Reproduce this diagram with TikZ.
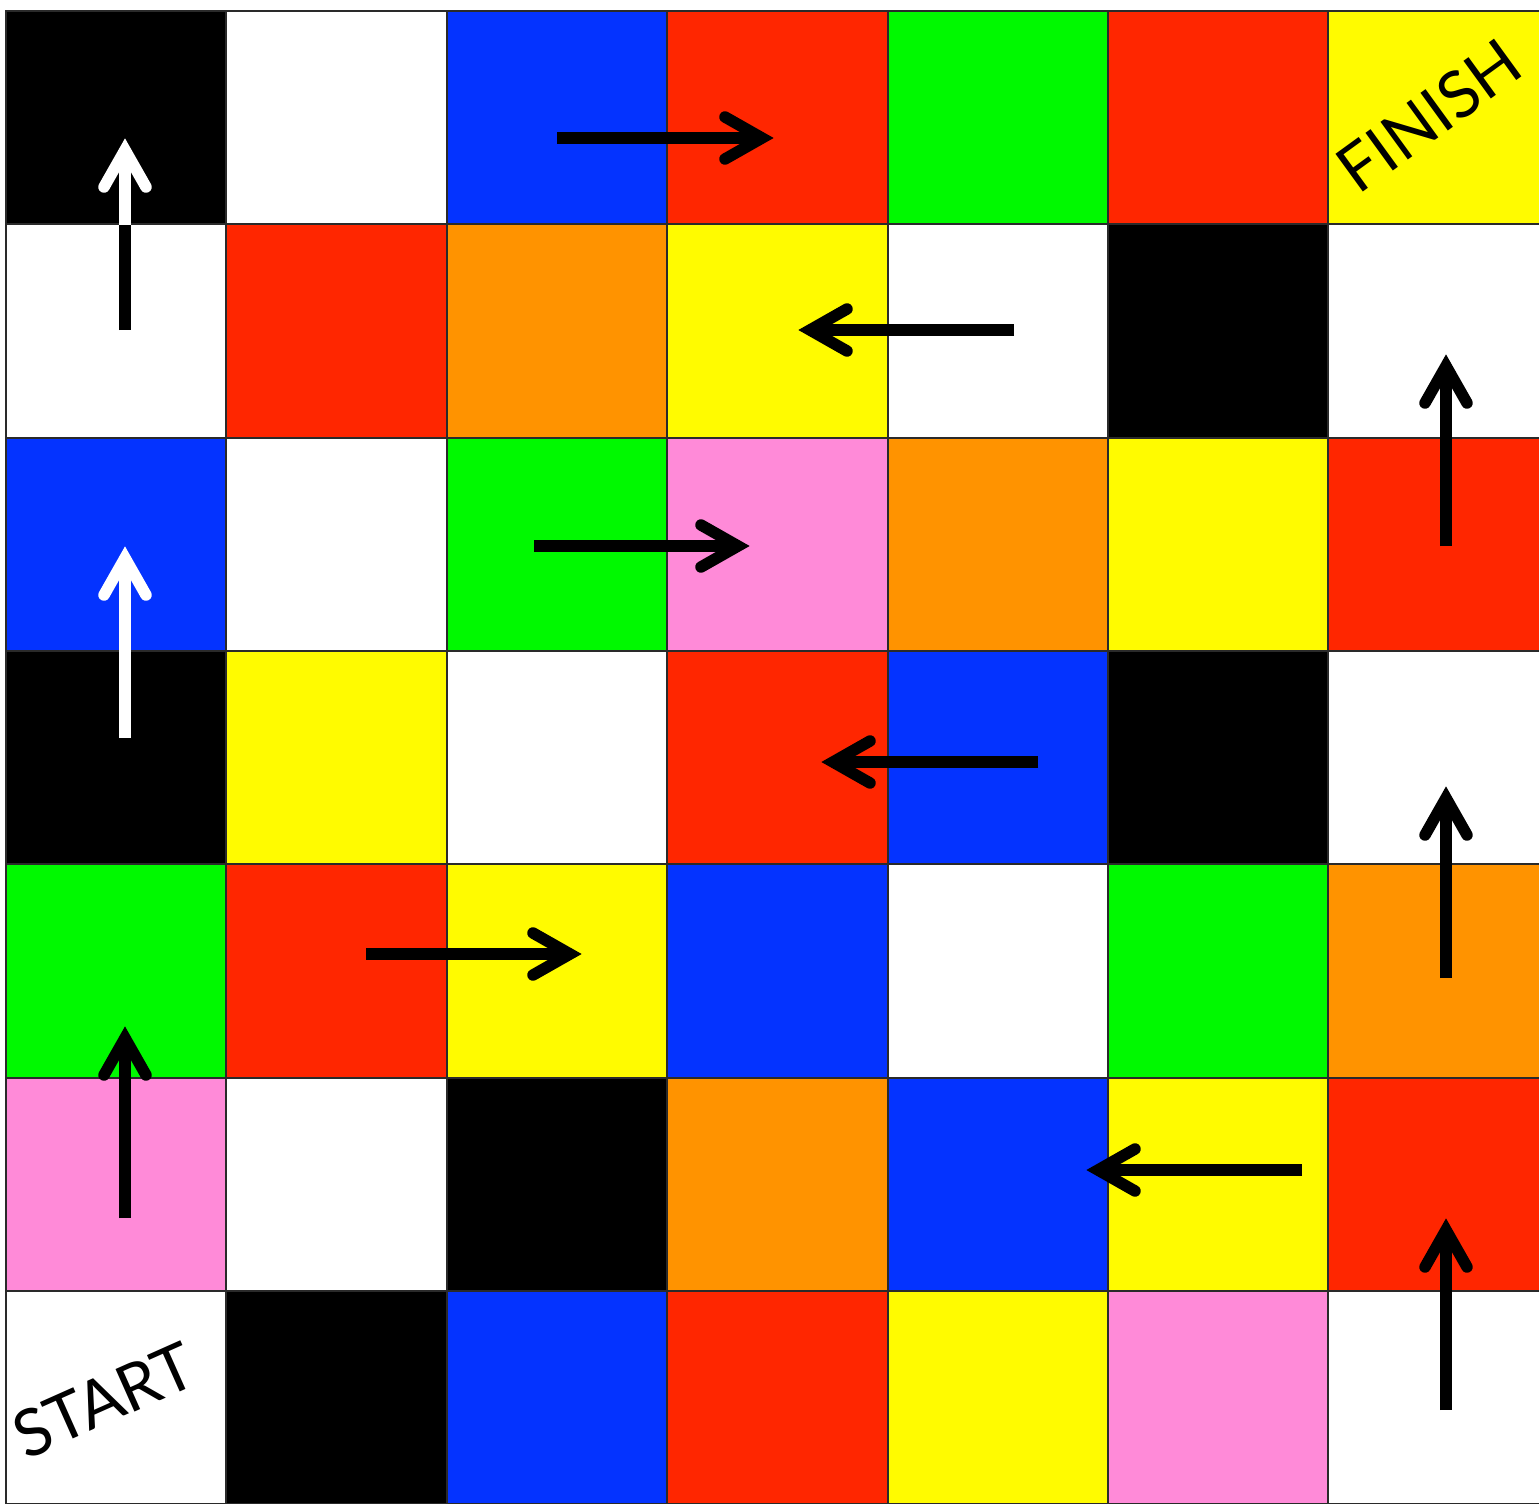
\documentclass[tikz,border=0pt]{standalone}
\usepackage{fontspec}
\setmainfont{Lato}
\definecolor{cK}{HTML}{000000}
\definecolor{cW}{HTML}{FFFFFF}
\definecolor{cB}{HTML}{0433FF}
\definecolor{cR}{HTML}{FF2600}
\definecolor{cG}{HTML}{00F900}
\definecolor{cY}{HTML}{FFFB00}
\definecolor{cO}{HTML}{FF9300}
\definecolor{cP}{HTML}{FF8AD8}
\definecolor{gridc}{HTML}{2A2A2A}
\newcommand\ArrUp[4]{%
  \draw[shaft,#4] (#1,#2) -- ({#1},{#3+10});
  \draw[head,#4] ({#1-21},{#3+47}) -- ({#1},{#3+10}) -- ({#1+21},{#3+47});}
\newcommand\ArrRight[4]{%
  \draw[shaft,#4] (#1,#3) -- ({#2-10},{#3});
  \draw[head,#4] ({#2-47},{#3-21}) -- ({#2-10},{#3}) -- ({#2-47},{#3+21});}
\newcommand\ArrLeft[4]{%
  \draw[shaft,#4] (#1,#3) -- ({#2+10},{#3});
  \draw[head,#4] ({#2+47},{#3-21}) -- ({#2+10},{#3}) -- ({#2+47},{#3+21});}
\begin{document}
\begin{tikzpicture}[x=1pt,y=-1pt,
  cellb/.style={draw=gridc,line width=2pt},
  shaft/.style={line width=11.5pt,line cap=butt},
  head/.style={line width=11.5pt,line cap=round,line join=miter,miter limit=20},
  label/.style={font=\fontsize{65}{67}\selectfont,inner sep=0pt}]
\useasboundingbox (0,0) rectangle (1539,1504);
\fill[white] (0,0) rectangle (1539,1504);
\begin{scope}
\clip (0,0) rectangle (1539,1504);
\foreach \row [count=\r from 0] in {{cK,cW,cB,cR,cG,cR,cY},{cW,cR,cO,cY,cW,cK,cW},{cB,cW,cG,cP,cO,cY,cR},{cK,cY,cW,cR,cB,cK,cW},{cG,cR,cY,cB,cW,cG,cO},{cP,cW,cK,cO,cB,cY,cR},{cW,cK,cB,cR,cY,cP,cW}}{
  \foreach \col [count=\c from 0] in \row {
    \path[fill=\col,cellb] ({6+220.4*\c},{11+213.3*\r}) rectangle ++(220.4,213.3);
  }
}
\end{scope}
% column 0
\ArrUp{125}{330}{140}{white}
\draw[shaft,black] (125,330) -- (125,225);
\ArrUp{125}{738}{548}{white}
\ArrUp{125}{1218}{1028}{black}
% column 6
\ArrUp{1446}{1410}{1220}{black}
\ArrUp{1446}{978}{788}{black}
\ArrUp{1446}{546}{356}{black}
% horizontal
\ArrRight{366}{580}{954}{black}
\ArrLeft{1038}{823}{762}{black}
\ArrRight{534}{748}{546}{black}
\ArrLeft{1014}{800}{330}{black}
\ArrRight{557}{772}{138}{black}
\ArrLeft{1302}{1088}{1170}{black}
% labels
\node[label,rotate=24] (start) at (104,1400) {START};
\node[label,rotate=36] (finish) at (1429,116) {FINISH};
\end{tikzpicture}
\end{document}
